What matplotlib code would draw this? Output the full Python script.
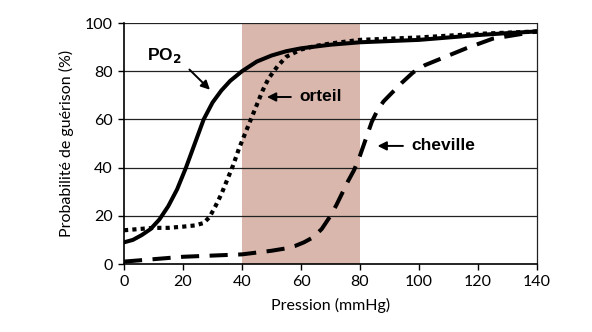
import matplotlib
matplotlib.use("Agg")
import matplotlib.pyplot as plt

# PO2 curve (solid)
po2_x = [0, 3, 6, 9, 12, 15, 18, 21, 24, 27, 30, 33, 36, 40, 45, 50, 55, 60, 70, 80, 90, 100, 110, 120, 130, 140]
po2_y = [9, 10, 12, 14.5, 18.5, 24, 31, 40, 50, 60, 67, 72, 76, 80, 84, 86.5, 88.3, 89.5, 91, 92, 92.5, 93, 94, 95, 95.8, 96.5]

# orteil (dotted)
ort_x = [0, 5, 10, 15, 20, 24, 27, 29, 31, 33, 35, 37, 39, 41, 43, 45, 47, 49, 52, 55, 60, 65, 70, 80, 100, 120, 140]
ort_y = [14, 14.5, 15, 15, 15.5, 16, 17, 19.5, 24, 29, 35, 41, 48, 54, 60, 66, 72, 77, 82, 86, 89, 90.5, 91.5, 93, 94, 95.5, 96.5]

# cheville (dashed)
che_x = [0, 10, 20, 30, 40, 50, 55, 58, 61, 64, 67, 70, 72, 74, 76, 78, 80, 82, 84, 86, 88, 90, 94, 98, 102, 107, 116, 125, 140]
che_y = [1, 2, 3, 3.5, 4, 5.5, 6.5, 7.5, 9, 11, 14.5, 20, 24.5, 29.5, 34.5, 39, 45, 52, 59, 64, 67.5, 70, 75, 79.5, 82.5, 85, 89.5, 93.5, 96.5]

zone = (40, 80)

fig = plt.figure(figsize=(5.92, 3.32), dpi=100)
ax = fig.add_axes([0.2095, 0.2048, 0.6976, 0.7259])

ax.axvspan(zone[0], zone[1], color="#dab7ac", lw=0, zorder=0)
for yv in [20, 40, 60, 80, 100]:
    ax.axhline(yv, color="#222222", lw=0.9, zorder=1)

ax.plot(po2_x, po2_y, color="black", lw=2.9, solid_capstyle="round", zorder=3)
ax.plot(ort_x, ort_y, color="black", lw=3.0, dashes=(1, 1), dash_capstyle="butt", zorder=3)
ax.plot(che_x, che_y, color="black", lw=2.9, dashes=(4.5, 2.6), dash_capstyle="butt", zorder=3)

ax.set_xlim(0, 140)
ax.set_ylim(0, 100)
ax.set_xticks(range(0, 141, 20))
ax.set_yticks(range(0, 101, 20))
tick_font = {"family": "Lato", "size": 11.5}
ax.set_xticklabels([str(v) for v in range(0, 141, 20)], fontdict=tick_font)
ax.set_yticklabels([str(v) for v in range(0, 101, 20)], fontdict=tick_font)
ax.tick_params(direction="out", length=4, width=1, color="black", pad=4)

ax.spines["top"].set_visible(False)
ax.spines["right"].set_linewidth(0.9)
ax.spines["right"].set_color("#222222")
ax.spines["left"].set_linewidth(1.2)
ax.spines["bottom"].set_linewidth(1.2)

ax.set_xlabel("Pression (mmHg)", family="Lato", fontsize=11.5, labelpad=6)
ax.set_ylabel("Probabilité de guérison (%)", family="Lato", fontsize=11.5, labelpad=8)

ann = {"family": "Liberation Sans", "weight": "bold", "size": 12.5}
arrow = dict(arrowstyle="-|>", color="black", lw=1.4, mutation_scale=13)
ax.text(13.5, 86.5, "PO$_\\mathbf{2}$", ha="center", va="center", **ann)
ax.annotate("", xy=(29.8, 71.5), xytext=(21.5, 81.5), arrowprops=arrow)
ax.text(59.5, 69.3, "orteil", ha="left", va="center", **ann)
ax.annotate("", xy=(47.5, 69.3), xytext=(57.5, 69.3), arrowprops=arrow)
ax.text(97.5, 49, "cheville", ha="left", va="center", **ann)
ax.annotate("", xy=(85, 49), xytext=(95.5, 49), arrowprops=arrow)

fig.savefig("out.png", dpi=100)
